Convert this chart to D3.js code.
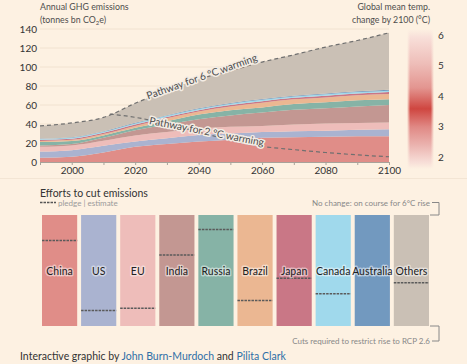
<!DOCTYPE html>
<html lang="en">
<head>
	<meta charset="utf-8" />
	<title>Efforts to cut emissions</title>
	<script src="https://cdnjs.cloudflare.com/ajax/libs/d3/7.8.5/d3.min.js"></script>
	<style>
		body { margin: 0; background: #fdf1e2; }
		svg { display: block; font-family: Lato, "Open Sans", sans-serif; }
		.halo { paint-order: stroke; stroke: #f3ece4; stroke-width: 3px; stroke-linejoin: round; }
	</style>
</head>
<body>
	<svg width="467" height="364"></svg>
	<script>
		// emissions by region, tonnes bn CO2e
		const years     = [1990, 2000, 2010, 2020, 2030, 2040, 2050, 2060, 2070, 2080, 2090, 2100];
		const china     = [4.5, 5.5, 10, 16, 19, 21.5, 23.5, 25.5, 26, 26.5, 27, 27];
		const us        = [6.5, 7, 7, 5.5, 6, 7, 6.5, 6, 6.5, 6.5, 7, 7.5];
		const eu        = [5, 5, 5.5, 6.5, 6.5, 6.5, 7, 6.5, 7, 7.5, 7, 7];
		const india     = [1.5, 1.5, 3, 5.5, 8, 10, 12, 14, 15.5, 16, 17.5, 18.5];
		const russia    = [3.5, 3, 2.5, 2.5, 3.5, 5, 5.5, 5.5, 6, 6.5, 6.5, 6];
		const brazil    = [1.2, 1.3, 1.5, 2, 3, 3.2, 4, 5, 5, 5, 5.3, 5.6];
		const japan     = [1.2, 1.3, 1.3, 1.4, 1.4, 1.4, 1.5, 1.5, 1.6, 1.7, 1.8, 2];
		const canada    = [0.8, 0.9, 1, 1.2, 1.2, 1.3, 1.3, 1.4, 1.4, 1.5, 1.5, 1.5];
		const australia = [0.5, 0.6, 0.6, 0.7, 0.7, 0.7, 0.8, 0.8, 0.8, 0.8, 0.8, 0.9];
		const others    = [13.3, 15, 14.5, 20.5, 26, 30.5, 34, 39, 43, 49, 53.5, 60];

		// 2 degree pathway
		const years2c = [2012, 2020, 2030, 2040, 2050, 2060, 2070, 2080, 2090, 2100];
		const path2c  = [50.5, 47, 40, 31.5, 23, 16.5, 13, 10, 7.5, 5.5];

		const countries = ["China", "US", "EU", "India", "Russia", "Brazil", "Japan", "Canada", "Australia", "Others"];
		const colors = ["#e08d88", "#aab3d0", "#eebdba", "#c39792", "#86b3a6", "#ebb792", "#c97786", "#a0d9ec", "#7299bf", "#cac0b5"];
		// pledged cut, % of the way from no change to RCP 2.6 (null = no pledge)
		const pledges = [23, 86, 84, 36, 13, 77, 57, 71, null, 61];

		const yTicks = [0, 20, 40, 60, 80, 100, 120, 140];
		const xLabels = [2000, 2020, 2040, 2060, 2080, 2100];
		const tempTicks = [2, 3, 4, 5, 6];

		const series = [china, us, eu, india, russia, brazil, japan, canada, australia, others];
		const table = years.map((yr, i) => {
			let row = { year: yr };
			countries.forEach((c, j) => row[c] = series[j][i]);
			return row;
		});

		let svg = d3.select('svg');
		let x = d3.scaleLinear().domain([1990, 2100]).range([40, 389]);
		let y = d3.scaleLinear().domain([0, 140]).range([162, 29]);

		// grid
		svg.append('g').selectAll('line')
			.data(yTicks.slice(1))
			.enter().append('line')
			.attr('x1', 40).attr('x2', 389)
			.attr('y1', d => y(d)).attr('y2', d => y(d))
			.attr('stroke', '#f1e2d0');

		svg.append('g').selectAll('text')
			.data(yTicks)
			.enter().append('text')
			.attr('x', 37).attr('y', d => y(d) + 3.5)
			.attr('text-anchor', 'end')
			.attr('font-size', 10)
			.attr('fill', '#333')
			.text(d => d);

		let stacked = d3.stack().keys(countries)(table);
		let area = d3.area()
			.x(d => x(d.data.year))
			.y0(d => y(d[0]))
			.y1(d => y(d[1]))
			.curve(d3.curveMonotoneX);

		svg.append('g').selectAll('path')
			.data(stacked)
			.enter().append('path')
			.attr('d', area)
			.attr('fill', (d, i) => colors[i]);

		// pathway lines
		let topLine = d3.line()
			.x(d => x(d.data.year))
			.y(d => y(d[1]))
			.curve(d3.curveMonotoneX);
		svg.append('path')
			.attr('d', topLine(stacked[stacked.length - 1]))
			.attr('fill', 'none')
			.attr('stroke', '#707070')
			.attr('stroke-width', 1.2)
			.attr('stroke-dasharray', '4 3');

		let line2c = d3.line()
			.x((d, i) => x(years2c[i]))
			.y(d => y(d))
			.curve(d3.curveMonotoneX);
		svg.append('path')
			.attr('d', line2c(path2c))
			.attr('fill', 'none')
			.attr('stroke', '#707070')
			.attr('stroke-width', 1.2)
			.attr('stroke-dasharray', '4 3');

		svg.append('text')
			.attr('class', 'halo')
			.attr('transform', 'translate(203,80) rotate(-19.5)')
			.attr('text-anchor', 'middle')
			.attr('font-size', 10.2)
			.attr('fill', '#4d4d4d')
			.text('Pathway for 6 °C warming');
		svg.append('text')
			.attr('class', 'halo')
			.attr('transform', 'translate(206,135) rotate(11)')
			.attr('text-anchor', 'middle')
			.attr('font-size', 10.2)
			.attr('fill', '#4d4d4d')
			.text('Pathway for 2 °C warming');

		// x axis
		let xAxis = svg.append('g')
			.attr('transform', 'translate(0,162)')
			.call(d3.axisBottom(x)
				.tickValues(d3.range(1990, 2101, 10))
				.tickSize(3)
				.tickFormat(d => xLabels.includes(d) ? d : ''));
		xAxis.select('.domain').attr('stroke', '#a8a29a');
		xAxis.selectAll('line').attr('stroke', '#a8a29a');
		xAxis.selectAll('text').attr('font-size', 10).attr('fill', '#333')
			.attr('font-family', 'Lato, sans-serif').attr('dy', '0.55em');

		svg.append('line')
			.attr('x1', 0).attr('x2', 467).attr('y1', 178.5).attr('y2', 178.5)
			.attr('stroke', '#f3e5d4');

		// titles
		svg.append('text').attr('x', 40).attr('y', 10).attr('font-size', 8.8).attr('fill', '#4d4d4d')
			.text('Annual GHG emissions');
		svg.append('text').attr('x', 40).attr('y', 23).attr('font-size', 8.8).attr('fill', '#4d4d4d')
			.html('(tonnes bn CO<tspan font-size="6" dy="2">2</tspan><tspan dy="-2">e)</tspan>');
		svg.append('text').attr('x', 430).attr('y', 10).attr('font-size', 8.8).attr('fill', '#4d4d4d')
			.attr('text-anchor', 'end').text('Global mean temp.');
		svg.append('text').attr('x', 430).attr('y', 23).attr('font-size', 8.8).attr('fill', '#4d4d4d')
			.attr('text-anchor', 'end').text('change by 2100 (°C)');

		// temperature key
		let t = d3.scaleLinear().domain([2, 6]).range([157, 35]);
		let defs = svg.append('defs');
		let grad = defs.append('linearGradient').attr('id', 'temp')
			.attr('x1', 0).attr('x2', 0).attr('y1', 0).attr('y2', 1);
		[[0, '#fdf1e2'], [0.06, '#f8dfd9'], [0.25, '#eebdb8'], [0.42, '#e39590'], [0.57, '#cf4640'],
		 [0.7, '#e08985'], [0.82, '#eab0ac'], [0.95, '#f7ddd7'], [1, '#fdf1e2']]
			.forEach(s => grad.append('stop').attr('offset', s[0]).attr('stop-color', s[1]));
		let edge = defs.append('linearGradient').attr('id', 'edge');
		[[0, 1], [0.12, 0], [0.88, 0], [1, 1]]
			.forEach(s => edge.append('stop').attr('offset', s[0]).attr('stop-color', '#fdf1e2').attr('stop-opacity', s[1]));
		svg.append('rect').attr('x', 407).attr('y', 29).attr('width', 27).attr('height', 140).attr('fill', 'url(#temp)');
		svg.append('rect').attr('x', 407).attr('y', 29).attr('width', 27).attr('height', 140).attr('fill', 'url(#edge)');
		svg.append('g').selectAll('text')
			.data(tempTicks)
			.enter().append('text')
			.attr('x', 438).attr('y', d => t(d) + 3.5)
			.attr('font-size', 10).attr('fill', '#333')
			.text(d => d);

		// efforts panel
		svg.append('text').attr('x', 40).attr('y', 197).attr('font-size', 10.5).attr('fill', '#333')
			.text('Efforts to cut emissions');
		svg.append('line').attr('x1', 40).attr('x2', 56).attr('y1', 202.5).attr('y2', 202.5)
			.attr('stroke', '#555').attr('stroke-width', 1.5).attr('stroke-dasharray', '2.5 1');
		svg.append('text').attr('x', 58).attr('y', 205.5).attr('font-size', 8).attr('fill', '#9a9a9a')
			.text('pledge | estimate');

		let bx = d3.scaleBand().domain(countries).range([42, 429]).paddingInner(0.1);
		let by = d3.scaleLinear().domain([0, 100]).range([215, 326]);

		svg.append('g').selectAll('rect')
			.data(countries)
			.enter().append('rect')
			.attr('x', d => bx(d)).attr('width', bx.bandwidth())
			.attr('y', by(0)).attr('height', by(100) - by(0))
			.attr('fill', (d, i) => colors[i]);

		svg.append('g').selectAll('line')
			.data(countries.filter((d, i) => pledges[i] !== null))
			.enter().append('line')
			.attr('x1', d => bx(d)).attr('x2', d => bx(d) + bx.bandwidth())
			.attr('y1', d => by(pledges[countries.indexOf(d)]))
			.attr('y2', d => by(pledges[countries.indexOf(d)]))
			.attr('stroke', '#5a5a5a').attr('stroke-width', 1.6).attr('stroke-dasharray', '2.5 1');

		svg.append('g').selectAll('text')
			.data(countries)
			.enter().append('text')
			.attr('class', 'halo')
			.style('stroke', 'rgba(255,255,255,0.45)')
			.attr('x', d => bx(d) + bx.bandwidth() / 2).attr('y', 275)
			.attr('text-anchor', 'middle')
			.attr('font-size', 10.5).attr('fill', '#222')
			.text(d => d);

		// brackets
		svg.append('text').attr('x', 430).attr('y', 205.5).attr('text-anchor', 'end')
			.attr('font-size', 8).attr('fill', '#888').text('No change: on course for 6°C rise');
		svg.append('path').attr('d', 'M432,202.5H439V215H430')
			.attr('fill', 'none').attr('stroke', '#888');
		svg.append('text').attr('x', 430).attr('y', 344).attr('text-anchor', 'end')
			.attr('font-size', 8).attr('fill', '#888').text('Cuts required to restrict rise to RCP 2.6');
		svg.append('path').attr('d', 'M430,326H439V341H432')
			.attr('fill', 'none').attr('stroke', '#888');

		// credit
		svg.append('text').attr('x', 20).attr('y', 360).attr('font-size', 10.5).attr('fill', '#333')
			.html('Interactive graphic by <tspan fill="#2f6fa6">John Burn-Murdoch</tspan> and <tspan fill="#2f6fa6">Pilita Clark</tspan>');
	</script>
</body>
</html>
